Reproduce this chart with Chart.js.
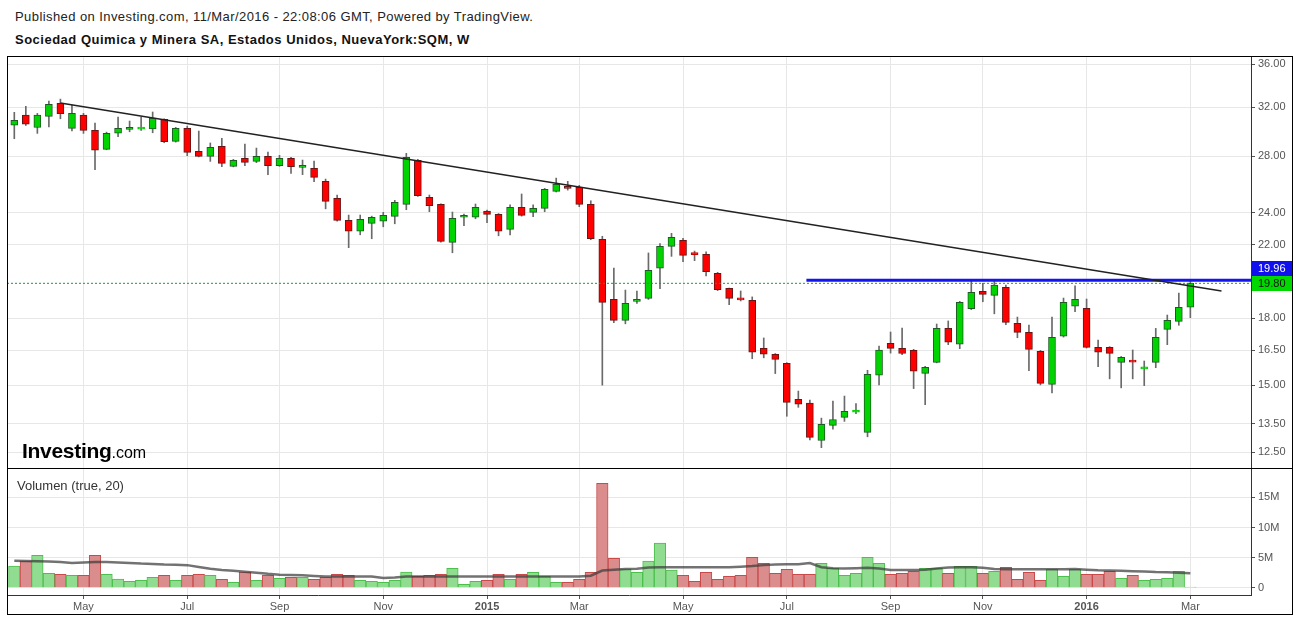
<!DOCTYPE html>
<html>
<head>
<meta charset="utf-8">
<script src="https://cdn.jsdelivr.net/npm/chart.js@4.4.1/dist/chart.umd.min.js"></script>
<style>
  body { margin: 0; background: #fff; font-family: Arial, "Liberation Sans", sans-serif; }
  #wrap { position: relative; width: 1297px; height: 619px; overflow: hidden; background: #fff; }
  .abs { position: absolute; }
  #pub { left: 15px; top: 9px; font-size: 13px; letter-spacing: 0.42px; color: #222; white-space: nowrap; }
  #name { left: 15px; top: 32px; font-size: 13px; letter-spacing: 0.5px; font-weight: bold; color: #111; white-space: nowrap; }
  #frame { left: 7px; top: 56px; width: 1286px; height: 559px; box-sizing: border-box; border: 1px solid #000; pointer-events: none; }
  #sep { left: 7px; top: 468px; width: 1285px; height: 1px; background: #000; }
  #price { left: 7px; top: 56px; }
  #vol { left: 7px; top: 469px; }
  #logo { left: 22px; top: 439px; color: #000; white-space: nowrap; }
  #logo b { font-size: 21px; letter-spacing: -0.3px; }
  #logo span { font-size: 16px; }
  #volLabel { left: 17px; top: 478px; font-size: 13px; color: #333; }
</style>
</head>
<body>
<div id="wrap">
  <div id="pub" class="abs">Published on Investing.com, 11/Mar/2016 - 22:08:06 GMT, Powered by TradingView.</div>
  <div id="name" class="abs">Sociedad Quimica y Minera SA, Estados Unidos, NuevaYork:SQM, W</div>
  <canvas id="price" class="abs" width="1285" height="412"></canvas>
  <canvas id="vol" class="abs" width="1285" height="145"></canvas>
  <div id="sep" class="abs"></div>
  <div id="logo" class="abs"><b>Investing</b><span>.com</span></div>
  <div id="volLabel" class="abs">Volumen (true, 20)</div>
  <div id="frame" class="abs"></div>
</div>
<script>
// weekly candles, Mar 24 2014 .. Mar 7 2016 (index = week number)
const opens = [30.47,31.33,30.28,31.22,32.34,30.21,31.33,30.05,28.53,29.81,30.12,30.15,30.17,30.96,29.16,30.21,28.38,27.99,28.77,27.24,
  27.84,27.61,27.99,27.29,27.84,27.16,27.09,26.15,24.97,23.51,22.82,23.32,23.45,23.77,24.56,27.69,25.03,24.56,22.14,23.71,
  23.71,24.11,23.89,22.94,24.36,24.03,24.29,25.44,25.79,25.72,24.56,22.32,18.95,17.90,18.85,19.00,20.63,21.90,22.26,21.45,
  21.43,20.35,19.53,18.97,18.90,16.58,16.32,15.92,14.43,14.28,12.90,13.44,13.74,13.93,13.19,15.41,16.81,16.58,16.49,15.49,
  15.96,17.51,16.77,18.48,19.37,19.16,19.58,17.75,17.32,16.45,15.03,17.14,18.60,18.50,16.63,16.63,15.96,16.01,15.68,15.96,
  17.46,17.85,18.55];
const highs = [31.56,32.08,31.47,32.55,32.72,32.19,31.47,30.65,29.90,31.16,30.82,31.16,31.59,31.01,30.29,30.40,29.99,29.03,29.40,27.76,
  28.95,28.63,28.32,28.07,27.92,27.71,27.64,26.31,25.19,23.85,23.85,23.78,24.03,24.83,28.22,27.76,25.19,24.60,24.05,23.91,
  24.58,24.18,23.95,24.53,25.26,24.53,25.65,26.38,26.15,25.86,24.80,22.51,20.64,19.44,19.39,21.51,22.06,22.69,22.38,21.62,
  21.57,20.40,19.55,19.39,19.08,17.06,16.35,15.95,14.76,14.40,13.71,14.36,14.56,14.26,15.62,16.69,17.34,17.53,16.54,15.79,
  17.72,17.87,18.85,20.01,19.80,19.92,19.71,18.06,17.67,16.49,18.06,19.02,19.66,18.97,16.96,16.66,16.22,16.51,16.02,17.51,
  18.16,19.28,19.96];
const lows = [29.37,30.45,29.80,30.34,31.01,30.01,29.80,26.99,28.50,29.53,29.93,30.05,29.85,29.05,29.10,28.04,27.95,27.61,27.21,27.20,
  27.29,27.51,26.63,27.24,26.72,26.63,26.12,24.26,23.45,21.82,22.60,22.36,23.10,23.29,24.20,25.10,24.07,22.15,21.52,23.17,
  23.61,23.36,22.54,22.60,23.78,23.75,24.07,25.40,25.53,24.40,22.30,15.00,17.78,17.73,18.75,18.95,19.51,21.31,21.00,21.06,
  20.21,19.41,18.68,18.87,16.12,16.16,15.48,13.78,14.12,12.92,12.65,13.30,13.59,13.88,13.03,15.01,16.37,16.30,14.86,14.22,
  15.94,16.75,16.57,18.43,18.83,18.22,17.69,17.07,15.60,15.01,14.69,17.10,18.33,16.60,15.77,15.26,14.89,15.26,14.98,15.73,
  16.75,17.66,18.03];
const closes = [30.88,30.55,31.33,32.25,31.44,31.47,30.05,28.46,29.81,30.21,30.29,30.18,31.07,29.13,30.21,28.30,27.99,28.69,27.46,27.69,
  27.54,27.99,27.29,27.84,27.21,27.31,26.43,24.76,23.51,22.82,23.58,23.71,23.83,24.69,27.91,25.14,24.47,22.20,23.64,23.83,
  24.36,23.89,22.82,24.36,23.83,24.29,25.58,25.93,25.65,24.56,22.36,18.80,17.90,18.75,18.95,20.51,21.90,22.44,21.37,21.41,
  20.44,19.46,19.00,18.93,16.41,16.32,16.09,14.31,14.24,13.01,13.48,13.66,13.97,13.97,15.45,16.51,16.58,16.35,15.58,15.75,
  17.51,16.86,18.80,19.32,19.21,19.71,17.80,17.32,16.54,15.07,17.09,18.80,18.95,16.63,16.41,16.36,16.18,15.97,15.72,17.09,
  17.90,18.55,19.80];
// volume in millions of shares, and its 20-week average as drawn
const volumes = [3.60,4.43,5.38,2.39,2.23,2.06,2.06,5.38,2.23,1.45,1.06,1.23,1.73,2.06,1.23,2.06,2.23,2.06,1.39,0.90,
  2.61,1.23,2.06,1.56,1.73,1.73,1.39,1.73,2.23,2.06,1.23,1.06,0.90,1.23,2.61,1.89,2.06,2.23,3.22,0.56,
  1.06,1.23,2.23,1.39,2.23,2.56,1.89,0.90,0.90,1.39,2.56,17.34,4.88,3.11,2.56,4.43,7.42,2.94,2.06,1.06,
  2.56,1.39,1.89,2.06,5.05,4.05,2.39,3.06,2.23,2.23,4.05,3.22,2.06,2.39,5.05,4.05,2.23,2.39,2.72,3.22,
  3.22,2.39,3.55,3.55,2.39,2.72,3.39,1.39,2.56,1.23,3.06,1.89,3.06,2.23,2.23,2.72,1.56,2.06,1.23,1.39,
  1.56,2.72,0.10];
const volAvg = [4.49,4.45,4.40,4.35,4.25,4.10,4.20,4.25,4.25,4.20,4.10,4.00,3.95,3.85,3.80,3.75,3.45,3.15,2.95,2.80,
  2.65,2.50,2.30,2.15,2.10,2.05,1.95,1.85,1.85,1.85,1.85,1.85,1.60,1.70,1.85,1.85,1.85,1.85,1.85,1.85,
  1.85,1.85,1.85,1.85,1.85,1.85,1.85,1.85,1.85,1.85,2.00,2.85,3.00,3.10,3.15,3.35,3.40,3.40,3.40,3.40,
  3.40,3.40,3.40,3.50,3.60,3.75,3.85,3.90,3.90,4.10,3.40,3.25,3.20,3.25,3.30,3.20,2.95,2.95,2.95,3.00,
  3.20,3.35,3.40,3.40,3.30,3.10,3.05,3.05,3.05,3.05,3.05,3.05,3.10,3.00,2.90,2.85,2.80,2.75,2.70,2.60,
  2.55,2.50,2.40];

const monthTickIdx = [6, 15, 23, 32, 41, 49, 58, 67, 76, 84, 93, 102];
const monthTickLabels = ['May', 'Jul', 'Sep', 'Nov', '2015', 'Mar', 'May', 'Jul', 'Sep', 'Nov', '2016', 'Mar'];
const priceTicks = [12.5, 13.5, 15, 16.5, 18, 22, 24, 28, 32, 36];
const volTicks = [0, 5, 10, 15];

// drawings on the chart
const trendX = [4, 104.7];
const trendY = [32.37, 19.39];
const resistanceX = [68.7, 107.26];
const resistanceLevel = 19.96;
const lastClose = 19.80;

// shared axis ranges
const xMin = -0.633, xMax = 107.26;
const priceMin = 11.967, priceMax = 36.8;
const volMin = -1.213, volMax = 19.72;

const gridColor = '#e7e7e7';
const axisText = '#555';
const fontFam = 'Arial, "Liberation Sans", sans-serif';
Chart.defaults.font.family = fontFam;
Chart.defaults.color = axisText;

const weekIdx = opens.map((_, i) => i);
const isUp = weekIdx.map(i => closes[i] >= opens[i]);
const isDoji = weekIdx.map(i => Math.abs(closes[i] - opens[i]) < 0.06);

const noPad = a => { a.paddingTop = 0; a.paddingBottom = 0; a.paddingLeft = 0; a.paddingRight = 0; };

const sideLabels = {
  id: 'sideLabels',
  afterDraw(chart) {
    const { ctx, chartArea, scales } = chart;
    const x = chartArea.right + 1;
    const w = chart.width - x;
    const box = (yc, bg, fg, txt) => {
      ctx.save();
      ctx.fillStyle = bg;
      ctx.fillRect(x, Math.round(yc - 7), w, 15);
      ctx.fillStyle = fg;
      ctx.font = '11px ' + fontFam;
      ctx.textBaseline = 'middle';
      ctx.fillText(txt, x + 6, Math.round(yc) + 0.5);
      ctx.restore();
    };
    box(scales.y.getPixelForValue(resistanceLevel) - 12, '#1010ee', '#fff', resistanceLevel.toFixed(2));
    box(scales.y.getPixelForValue(lastClose), '#00d800', '#111', lastClose.toFixed(2));
  }
};

new Chart(document.getElementById('price'), {
  type: 'bar',
  data: {
    datasets: [
      {
        type: 'line', data: trendX.map((x, i) => ({ x, y: trendY[i] })),
        borderColor: '#222', borderWidth: 1.4, pointRadius: 0, order: 0
      },
      {
        type: 'line', data: resistanceX.map(x => ({ x, y: resistanceLevel })),
        borderColor: '#1414ee', borderWidth: 3, pointRadius: 0, order: 0
      },
      {
        type: 'line', data: [{ x: xMin, y: lastClose }, { x: xMax, y: lastClose }],
        borderColor: '#1a9a3a', borderWidth: 1, borderDash: [2, 2], pointRadius: 0, order: 0
      },
      {
        data: weekIdx.map(i => ({ x: i, y: [opens[i], closes[i]] })),
        backgroundColor: weekIdx.map(i => isUp[i] ? '#00d400' : '#ff0000'),
        borderColor: weekIdx.map(i => isDoji[i] ? (isUp[i] ? '#00d400' : '#d00000') : (isUp[i] ? '#1f5a24' : '#6a1414')),
        borderWidth: 1, borderSkipped: false, barThickness: 7, minBarLength: 2,
        grouped: false, order: 1
      },
      {
        data: weekIdx.map(i => ({ x: i, y: [lows[i], highs[i]] })),
        backgroundColor: '#6a6a6a', borderWidth: 0, barThickness: 1,
        grouped: false, order: 2
      }
    ]
  },
  options: {
    responsive: false,
    animation: false,
    devicePixelRatio: 1,
    layout: { padding: 0 },
    plugins: { legend: { display: false }, tooltip: { enabled: false } },
    scales: {
      x: {
        type: 'linear', min: xMin, max: xMax, offset: false, bounds: 'data',
        afterBuildTicks: a => { a.ticks = monthTickIdx.map(v => ({ value: v })); },
        afterFit: a => { a.height = 0; noPad(a); },
        ticks: { display: false },
        border: { display: false },
        grid: { color: gridColor, drawTicks: false, offset: false }
      },
      y: {
        type: 'logarithmic', position: 'right', min: priceMin, max: priceMax, bounds: 'data',
        afterBuildTicks: a => { a.ticks = priceTicks.map(v => ({ value: v })); },
        afterFit: a => { a.width = 41; noPad(a); },
        ticks: { callback: v => Number(v).toFixed(2), autoSkip: false, padding: 3, font: { size: 11 } },
        grid: { color: gridColor, tickColor: '#555', tickLength: 4 },
        border: { color: '#333' }
      }
    }
  },
  plugins: [sideLabels]
});

new Chart(document.getElementById('vol'), {
  type: 'bar',
  data: {
    datasets: [
      {
        type: 'line', data: weekIdx.map(i => ({ x: i, y: volAvg[i] })),
        borderColor: 'rgba(60,60,60,0.72)', borderWidth: 2.5, pointRadius: 0, order: 0
      },
      {
        data: weekIdx.map(i => ({ x: i, y: volumes[i] })),
        backgroundColor: weekIdx.map(i => isUp[i] ? '#90dc90' : '#db8c8c'),
        borderColor: weekIdx.map(i => isUp[i] ? '#4cbf4c' : '#c84a4a'),
        borderWidth: 1, barPercentage: 1, categoryPercentage: 1, order: 1
      }
    ]
  },
  options: {
    responsive: false,
    animation: false,
    devicePixelRatio: 1,
    layout: { padding: 0 },
    plugins: { legend: { display: false }, tooltip: { enabled: false } },
    scales: {
      x: {
        type: 'linear', min: xMin, max: xMax, offset: false, bounds: 'data',
        afterBuildTicks: a => { a.ticks = monthTickIdx.map(v => ({ value: v })); },
        afterFit: a => { a.height = 19; noPad(a); },
        ticks: {
          callback: v => monthTickLabels[monthTickIdx.indexOf(v)],
          autoSkip: false, maxRotation: 0, padding: 1,
          font: c => ({ size: 11, weight: (c.tick && /^\d{4}$/.test(c.tick.label)) ? 'bold' : 'normal' })
        },
        grid: { color: gridColor, tickColor: '#555', tickLength: 4, offset: false },
        border: { color: '#333' }
      },
      y: {
        type: 'linear', position: 'right', min: volMin, max: volMax, bounds: 'data',
        afterBuildTicks: a => { a.ticks = volTicks.map(v => ({ value: v })); },
        afterFit: a => { a.width = 41; noPad(a); },
        ticks: { callback: v => v === 0 ? '0' : v + 'M', autoSkip: false, padding: 3, font: { size: 11 } },
        grid: { color: gridColor, tickColor: '#555', tickLength: 4 },
        border: { color: '#333' }
      }
    }
  }
});
</script>
</body>
</html>
